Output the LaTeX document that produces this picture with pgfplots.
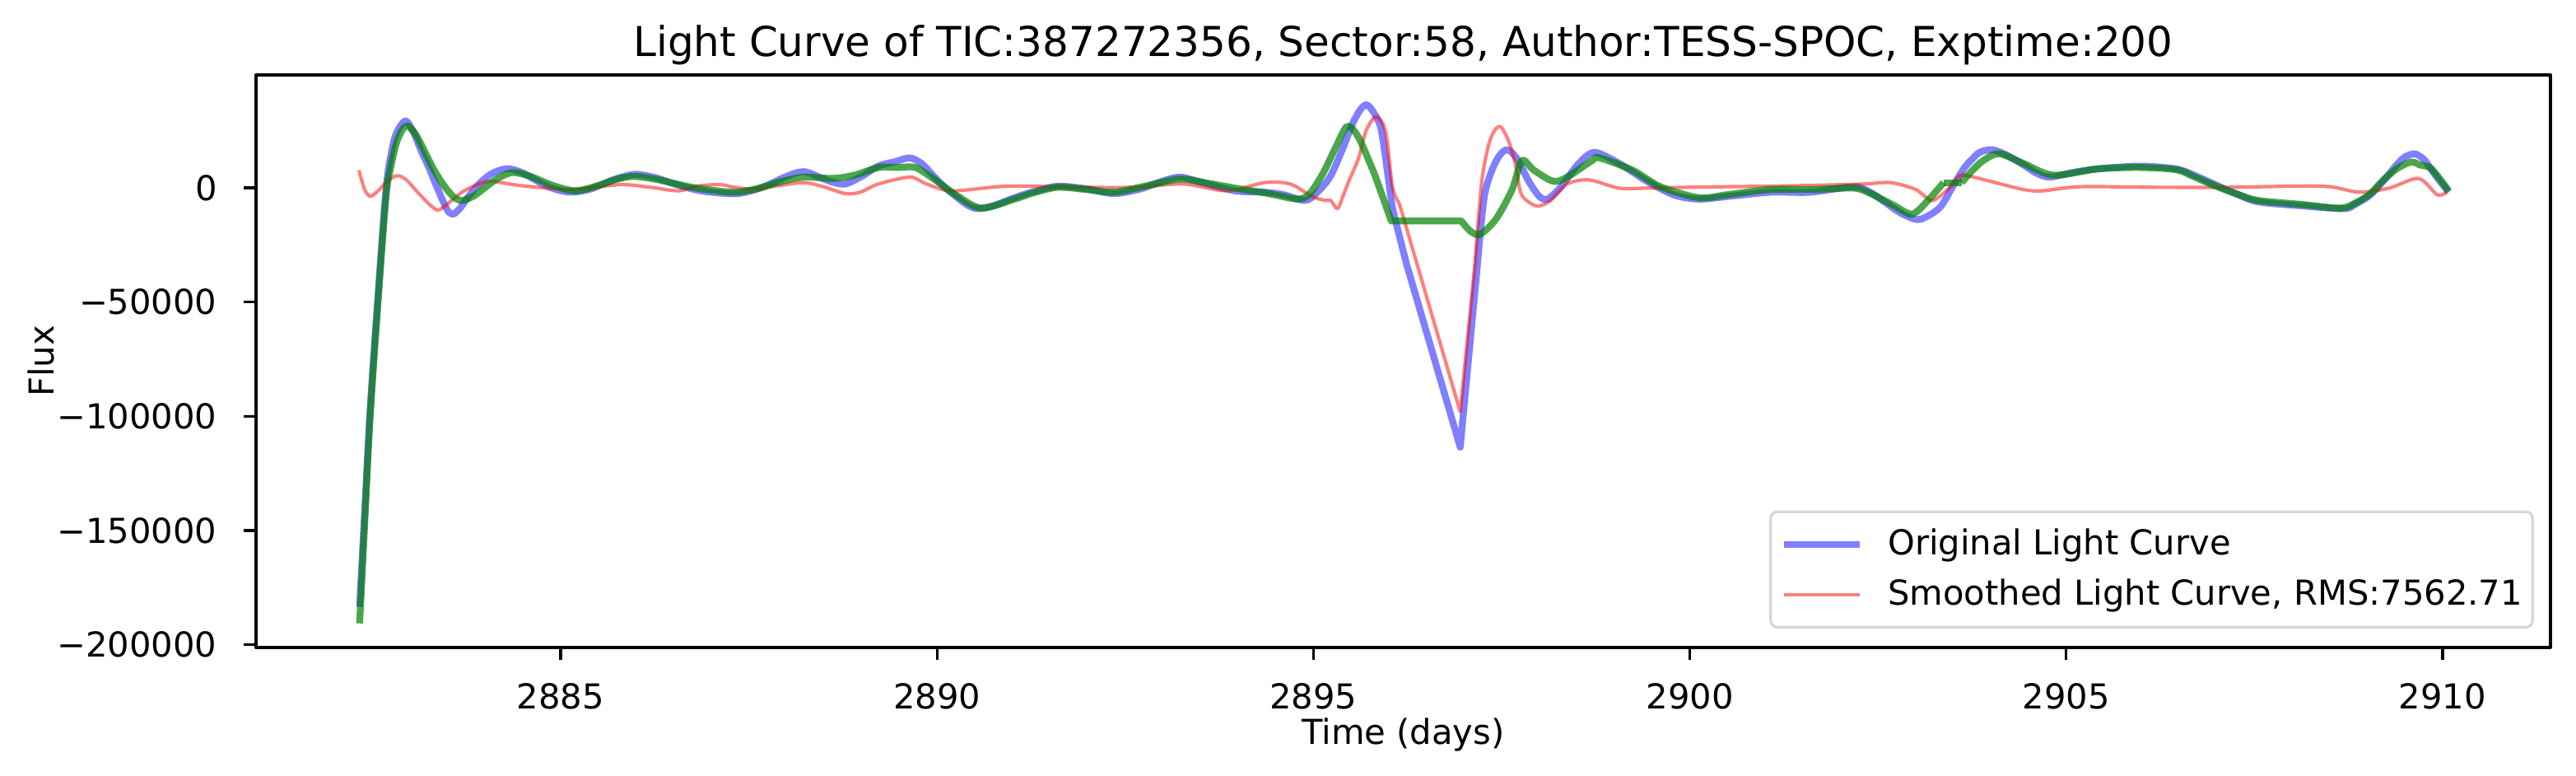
\documentclass[border=0pt]{standalone}
\usepackage{fontspec}
\setmainfont{DejaVu Sans}
\usepackage{pgfplots}
\pgfplotsset{compat=1.18}
\definecolor{mplgreen}{RGB}{0,128,0}
\definecolor{legframe}{RGB}{214,214,214}
\pgfplotstableread{
x y
2882.33 -183400
2882.40 -140000
2882.47 -97000
2882.57 -49000
2882.68 -1000
2882.75 15000
2882.82 24000
2882.94 29300
2883.05 24000
2883.15 16000
2883.25 8900
2883.40 -3000
2883.50 -10000
2883.57 -11500
2883.65 -9500
2883.75 -5000
2883.88 480
2884.05 5500
2884.20 7800
2884.32 8300
2884.50 6500
2884.76 1680
2884.95 -800
2885.15 -1920
2885.40 -500
2885.70 3500
2885.98 5900
2886.25 4500
2886.57 1080
2886.90 -1500
2887.35 -2520
2887.70 500
2888.00 5000
2888.23 7090
2888.45 4500
2888.61 2500
2888.78 1680
2889.00 5000
2889.22 9490
2889.45 11500
2889.64 13100
2889.80 10500
2889.95 5290
2890.10 300
2890.25 -3720
2890.40 -7500
2890.54 -9130
2890.75 -7800
2891.03 -4320
2891.30 -1500
2891.61 720
2892.00 -500
2892.35 -2520
2892.70 -500
2893.00 3000
2893.23 4680
2893.50 2500
2893.96 -1320
2894.35 -1920
2894.60 -3000
2894.89 -5530
2895.05 -2000
2895.23 5290
2895.40 18000
2895.52 28110
2895.63 34500
2895.71 36300
2895.80 33000
2895.89 26900
2895.95 15000
2896.00 2880
2896.05 -9130
2896.235 -33150
2896.95 -113500
2897.18 -33150
2897.274 -3120
2897.42 11290
2897.566 16700
2897.71 12500
2897.86 2880
2898.00 -3720
2898.11 -4920
2898.29 480
2898.51 10090
2898.73 15500
2899.06 10700
2899.43 2880
2899.79 -3120
2900.12 -4920
2900.52 -3720
2901.07 -1920
2901.60 -1920
2902.18 480
2902.40 -2000
2902.61 -6730
2902.80 -11000
2903.02 -13900
2903.18 -12000
2903.34 -7900
2903.50 1000
2903.65 8890
2903.75 12500
2903.85 15500
2904.01 16700
2904.20 14500
2904.43 10090
2904.60 6500
2904.78 4680
2905.10 6800
2905.42 8290
2905.97 9490
2906.46 8290
2906.70 5500
2906.96 1680
2907.25 -2500
2907.55 -6130
2908.15 -7930
2908.69 -9130
2908.85 -7000
2909.04 -3120
2909.20 2500
2909.39 10090
2909.50 13500
2909.63 14900
2909.75 12500
2909.83 8890
2909.95 3500
2910.08 -1920
}\original
\pgfplotstableread{
x y
2882.32 7700
2882.40 -1000
2882.48 -3700
2882.60 -500
2882.70 3000
2882.83 5300
2882.95 3500
2883.10 -1900
2883.25 -7000
2883.37 -9730
2883.50 -7000
2883.69 -1900
2883.90 1500
2884.08 2880
2884.35 1500
2884.62 480
2885.10 -720
2885.50 500
2885.84 1440
2886.20 200
2886.57 -1320
2886.81 720
2887.11 1440
2887.30 300
2887.55 -480
2887.90 1000
2888.23 2280
2888.49 480
2888.78 -2520
2888.98 -1920
2889.22 1680
2889.64 4680
2889.86 1680
2890.20 -1320
2890.93 720
2891.90 240
2892.64 240
2893.27 1680
2893.86 -1320
2894.35 2280
2894.69 1680
2894.98 -3720
2895.15 -5500
2895.23 -5530
2895.32 -9130
2895.40 -3000
2895.47 2880
2895.60 13000
2895.70 25000
2895.834 31100
2895.96 24500
2896.05 480
2896.14 -6730
2896.36 -31500
2896.95 -98000
2897.146 -33150
2897.237 2880
2897.347 20900
2897.475 26900
2897.602 19700
2897.693 8890
2897.766 -3120
2897.967 -7930
2898.15 -5530
2898.37 1680
2898.66 3480
2899.06 -120
2899.43 -120
2899.97 240
2900.50 500
2901.07 720
2901.63 1080
2902.32 1680
2902.67 2280
2903.00 -720
2903.22 -5530
2903.45 0
2903.58 5290
2903.69 5290
2903.99 2880
2904.43 -720
2904.68 -1320
2905.18 480
2906.17 240
2907.16 240
2908.40 720
2908.89 -1920
2909.29 -120
2909.68 4080
2909.93 -3120
2910.05 -1920
}\smoothed
\pgfplotstableread{
x y
2882.33 -190600
2882.40 -145000
2882.47 -100000
2882.57 -52000
2882.68 -4000
2882.75 10000
2882.82 19800
2882.90 25500
2882.98 26900
2883.10 22000
2883.30 8900
2883.45 1000
2883.58 -4000
2883.69 -5500
2883.85 -3500
2884.05 1500
2884.20 4800
2884.37 6700
2884.60 5000
2884.90 1000
2885.20 -1300
2885.50 1000
2885.75 3800
2885.98 5000
2886.30 3500
2886.70 500
2887.00 -1000
2887.30 -1900
2887.60 -500
2887.90 2500
2888.23 4700
2888.61 4100
2888.90 5500
2889.22 8890
2889.47 8890
2889.71 8890
2889.95 4080
2890.25 -3120
2890.59 -8890
2891.03 -4920
2891.30 -2000
2891.61 240
2892.00 -800
2892.35 -1920
2892.80 1000
2893.23 3840
2893.60 2000
2893.96 -120
2894.40 -2500
2894.79 -4920
2894.95 -2500
2895.13 6490
2895.30 18000
2895.45 26900
2895.60 22000
2895.82 5290
2896.034 -14500
2896.964 -14500
2897.055 -18100
2897.20 -20500
2897.42 -13900
2897.64 -720
2897.77 11890
2897.93 7690
2898.185 2880
2898.37 4680
2898.70 11890
2898.80 13100
2899.24 7690
2899.61 480
2900.12 -4320
2900.50 -3000
2901.07 -720
2901.63 -720
2902.18 -120
2902.40 -2500
2902.70 -7500
2902.95 -11500
2903.15 -6000
2903.37 2280
2903.61 2280
2903.75 7500
2903.90 12000
2904.11 14900
2904.43 10700
2904.83 5530
2905.42 8290
2905.97 8890
2906.46 7930
2906.70 4800
2906.96 1080
2907.25 -2500
2907.55 -5530
2908.15 -7330
2908.64 -8890
2908.85 -6500
2909.04 -2520
2909.20 3000
2909.39 8290
2909.58 11290
2909.70 10000
2909.83 8890
2909.95 4500
2910.08 -1320
}\fitted
\begin{document}
\begin{tikzpicture}
\path[use as bounding box] (-74.64bp,-37.2bp) rectangle (676.32bp,188.64bp);
\begin{axis}[
  at={(0,0)}, anchor=south west,
  scale only axis, width=668.88bp, height=166.8bp,
  xmin=2880.954, xmax=2911.433, ymin=-201150, ymax=49390,
  axis line style={line width=0.8bp},
  tick style={line width=0.8bp, black},
  tick align=outside, major tick length=3.5bp,
  xtick pos=bottom, ytick pos=left,
  scaled y ticks=false, scaled x ticks=false,
  xtick={2885,2890,2895,2900,2905,2910},
  xticklabels={2885,2890,2895,2900,2905,2910},
  ytick={-200000,-150000,-100000,-50000,0},
  yticklabels={−200000,−150000,−100000,−50000,0},
  ticklabel style={font=\fontsize{10.04}{12}\selectfont},
  xticklabel style={anchor=base, yshift=-14.4bp, inner sep=0pt},
  yticklabel style={anchor=east, xshift=-7.7bp, inner sep=0pt},
  xlabel={Time (days)},
  ylabel={Flux},
  label style={font=\fontsize{10.04}{12}\selectfont},
  xlabel style={at={(axis description cs:0.5,0)}, anchor=base, yshift=-28.1bp, inner sep=0pt},
  ylabel style={at={(axis description cs:0,0.5)}, rotate=0, anchor=base, yshift=59bp, inner sep=0pt},
  title={Light Curve of TIC:387272356, Sector:58, Author:TESS-SPOC, Exptime:200},
  title style={at={(axis description cs:0.5,1)}, anchor=base, yshift=-0.5bp, inner sep=0pt, font=\fontsize{12.05}{14}\selectfont},
  legend cell align=left,
  legend image code/.code={\draw[#1] (0bp,0bp) -- (22bp,0bp);},
  legend style={at={(axis description cs:1,0)}, anchor=south east, xshift=-4.8bp, yshift=5.5bp,
    draw=legframe, line width=0.8bp, rounded corners=2bp, fill=white, fill opacity=0.8, text opacity=1,
    inner xsep=3bp, inner ysep=3bp, row sep=1.5bp, column sep=7.2bp,
    nodes={inner xsep=0pt},
    font=\fontsize{10.04}{12}\selectfont},
  line join=round,
]
% original light curve
\addplot[blue, opacity=0.5, line width=2bp, smooth, tension=0.5, restrict x to domain=2882:2896.06] table[x=x,y=y] {\original};
\addlegendentry{Original Light Curve}
\addplot[blue, opacity=0.5, line width=2bp, sharp plot, forget plot, restrict x to domain=2896.04:2897.19] table[x=x,y=y] {\original};
\addplot[blue, opacity=0.5, line width=2bp, smooth, tension=0.5, forget plot, restrict x to domain=2897.17:2911] table[x=x,y=y] {\original};
% smoothed light curve
\addplot[red, opacity=0.5, line width=1bp, smooth, tension=0.5, restrict x to domain=2882:2896.145] table[x=x,y=y] {\smoothed};
\addlegendentry{Smoothed Light Curve, RMS:7562.71\hspace{1.8bp}}
\addplot[red, opacity=0.5, line width=1bp, sharp plot, forget plot, restrict x to domain=2896.13:2897.15] table[x=x,y=y] {\smoothed};
\addplot[red, opacity=0.5, line width=1bp, smooth, tension=0.5, forget plot, restrict x to domain=2897.14:2911] table[x=x,y=y] {\smoothed};
% fitted curve
\addplot[mplgreen, opacity=0.7, line width=2bp, smooth, tension=0.5, forget plot, restrict x to domain=2882:2895.83] table[x=x,y=y] {\fitted};
\addplot[mplgreen, opacity=0.7, line width=2bp, sharp plot, forget plot, restrict x to domain=2895.81:2897.06] table[x=x,y=y] {\fitted};
\addplot[mplgreen, opacity=0.7, line width=2bp, smooth, tension=0.5, forget plot, restrict x to domain=2897.05:2903.38] table[x=x,y=y] {\fitted};
\addplot[mplgreen, opacity=0.7, line width=2bp, sharp plot, forget plot, restrict x to domain=2903.36:2903.62] table[x=x,y=y] {\fitted};
\addplot[mplgreen, opacity=0.7, line width=2bp, smooth, tension=0.5, forget plot, restrict x to domain=2903.60:2911] table[x=x,y=y] {\fitted};
\end{axis}
\end{tikzpicture}
\end{document}
